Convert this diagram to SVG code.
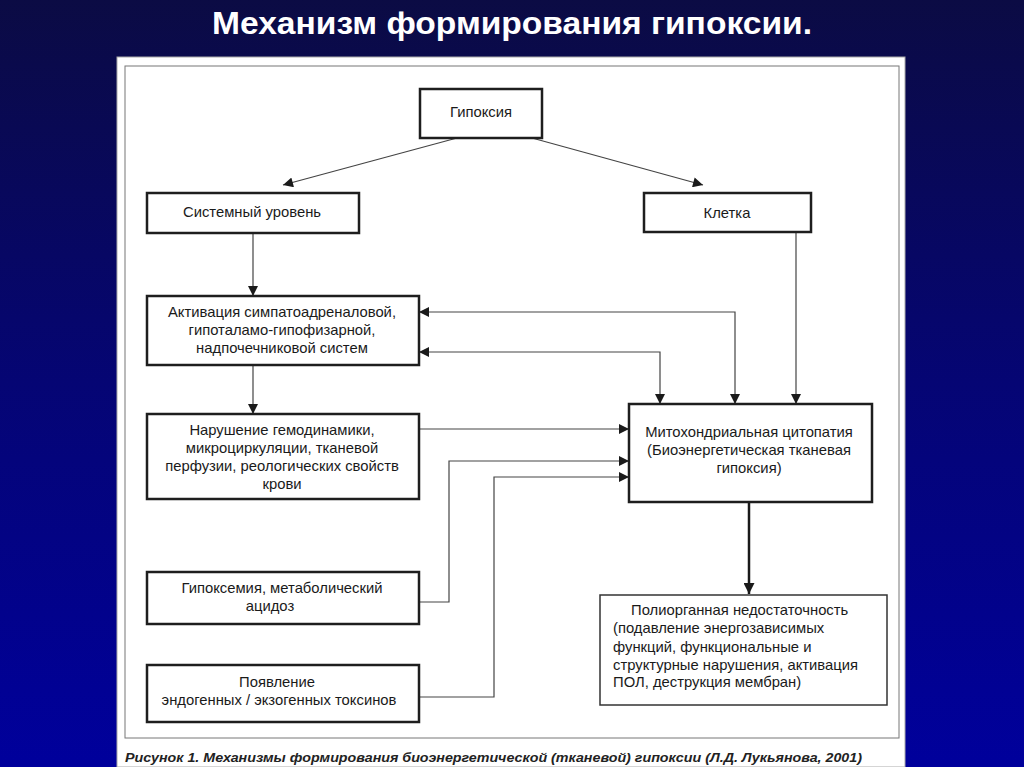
<svg xmlns="http://www.w3.org/2000/svg" width="1024" height="767" viewBox="0 0 1024 767">
<defs>
<linearGradient id="bg" x1="0" y1="0" x2="0" y2="1">
<stop offset="0" stop-color="#0b0b44"/>
<stop offset="0.5" stop-color="#050574"/>
<stop offset="1" stop-color="#00009c"/>
</linearGradient>
<marker id="ah" viewBox="0 0 10 10" refX="10" refY="5" markerWidth="12" markerHeight="10" markerUnits="userSpaceOnUse" orient="auto-start-reverse">
<path d="M0,0 L10,5 L0,10 Z" fill="#1a1a1a"/>
</marker>
<marker id="ahb" viewBox="0 0 10 10" refX="10" refY="5" markerWidth="13" markerHeight="11" markerUnits="userSpaceOnUse" orient="auto">
<path d="M0,0 L10,5 L0,10 Z" fill="#1a1a1a"/>
</marker>
</defs>
<style>
.box{fill:#fff;stroke:#1e1e1e;stroke-width:2.5}
.thin{fill:#fff;stroke:#333;stroke-width:1.5}
.t{font-family:"Liberation Sans",Arial,sans-serif;font-size:14.8px;fill:#1a1a1a;text-anchor:middle}
.tl{font-family:"Liberation Sans",Arial,sans-serif;font-size:14.8px;fill:#1a1a1a}
.c{fill:none;stroke:#444;stroke-width:1.2}
</style>
<rect x="0" y="0" width="1024" height="767" fill="url(#bg)"/>
<text x="512" y="34" font-family="Liberation Sans, Arial, sans-serif" font-size="31" font-weight="bold" fill="#fff" text-anchor="middle" textLength="600" lengthAdjust="spacingAndGlyphs">Механизм формирования гипоксии.</text>
<rect x="117" y="57" width="788" height="710" fill="#fff" stroke="#aaa" stroke-width="1"/>
<rect x="125" y="66" width="774" height="672" fill="none" stroke="#777" stroke-width="1"/>
<text x="125" y="762" font-family="Liberation Sans, Arial, sans-serif" font-size="13" font-weight="bold" font-style="italic" fill="#222" textLength="737" lengthAdjust="spacingAndGlyphs">Рисунок 1. Механизмы формирования биоэнергетической (тканевой) гипоксии (Л.Д. Лукьянова, 2001)</text>

<g id="connectors">
<path class="c" d="M457,138 L283,185" marker-end="url(#ah)"/>
<path class="c" d="M532,138 L703,185" marker-end="url(#ah)"/>
<path class="c" d="M253,233 V296" marker-end="url(#ah)"/>
<path class="c" d="M253,365 V414" marker-end="url(#ah)"/>
<path class="c" d="M735,404 V312 H419" marker-start="url(#ah)" marker-end="url(#ah)"/>
<path class="c" d="M660,404 V352 H419" marker-start="url(#ah)" marker-end="url(#ah)"/>
<path class="c" d="M796,232 V404" marker-end="url(#ah)"/>
<path class="c" d="M419,429 H629" marker-end="url(#ah)"/>
<path class="c" d="M419,602 H449 V461 H629" marker-end="url(#ah)"/>
<path class="c" d="M419,697 H494 V477 H629" marker-end="url(#ah)"/>
<path fill="none" stroke="#1a1a1a" stroke-width="2.5" d="M749,502 V594" marker-end="url(#ahb)"/>
</g>

<g id="hypoxia">
<rect class="box" x="420" y="89" width="122" height="49"/>
<text class="t" x="481" y="117">Гипоксия</text>
</g>
<g id="system">
<rect class="box" x="147" y="193" width="212" height="40"/>
<text class="t" x="252" y="217">Системный уровень</text>
</g>
<g id="cell">
<rect class="box" x="644" y="193" width="167" height="39"/>
<text class="t" x="727" y="218">Клетка</text>
</g>
<g id="activation">
<rect class="box" x="147" y="296" width="272" height="69"/>
<text class="t" x="282" y="317">Активация симпатоадреналовой,</text>
<text class="t" x="282" y="335">гипоталамо-гипофизарной,</text>
<text class="t" x="282" y="353">надпочечниковой систем</text>
</g>
<g id="hemodynamics">
<rect class="box" x="147" y="414" width="272" height="85"/>
<text class="t" x="282" y="435">Нарушение гемодинамики,</text>
<text class="t" x="282" y="453">микроциркуляции, тканевой</text>
<text class="t" x="282" y="471">перфузии, реологических свойств</text>
<text class="t" x="282" y="489">крови</text>
</g>
<g id="mito">
<rect class="box" x="629" y="404" width="243" height="98"/>
<text class="t" x="749" y="437">Митохондриальная цитопатия</text>
<text class="t" x="749" y="455">(Биоэнергетическая тканевая</text>
<text class="t" x="749" y="473">гипоксия)</text>
</g>
<g id="hypoxemia">
<rect class="box" x="147" y="572" width="272" height="52"/>
<text class="t" x="282" y="593">Гипоксемия, метаболический</text>
<text class="t" x="270" y="611">ацидоз</text>
</g>
<g id="toxins">
<rect class="box" x="147" y="665" width="272" height="57"/>
<text class="t" x="277" y="687">Появление</text>
<text class="t" x="279" y="705">эндогенных / экзогенных токсинов</text>
</g>
<g id="polyorgan">
<rect class="thin" x="600" y="595" width="287" height="110"/>
<text class="tl" x="631" y="615">Полиорганная недостаточность</text>
<text class="tl" x="613" y="633">(подавление энергозависимых</text>
<text class="tl" x="613" y="652">функций, функциональные и</text>
<text class="tl" x="613" y="670">структурные нарушения, активация</text>
<text class="tl" x="613" y="687">ПОЛ, деструкция мембран)</text>
</g>
</svg>
